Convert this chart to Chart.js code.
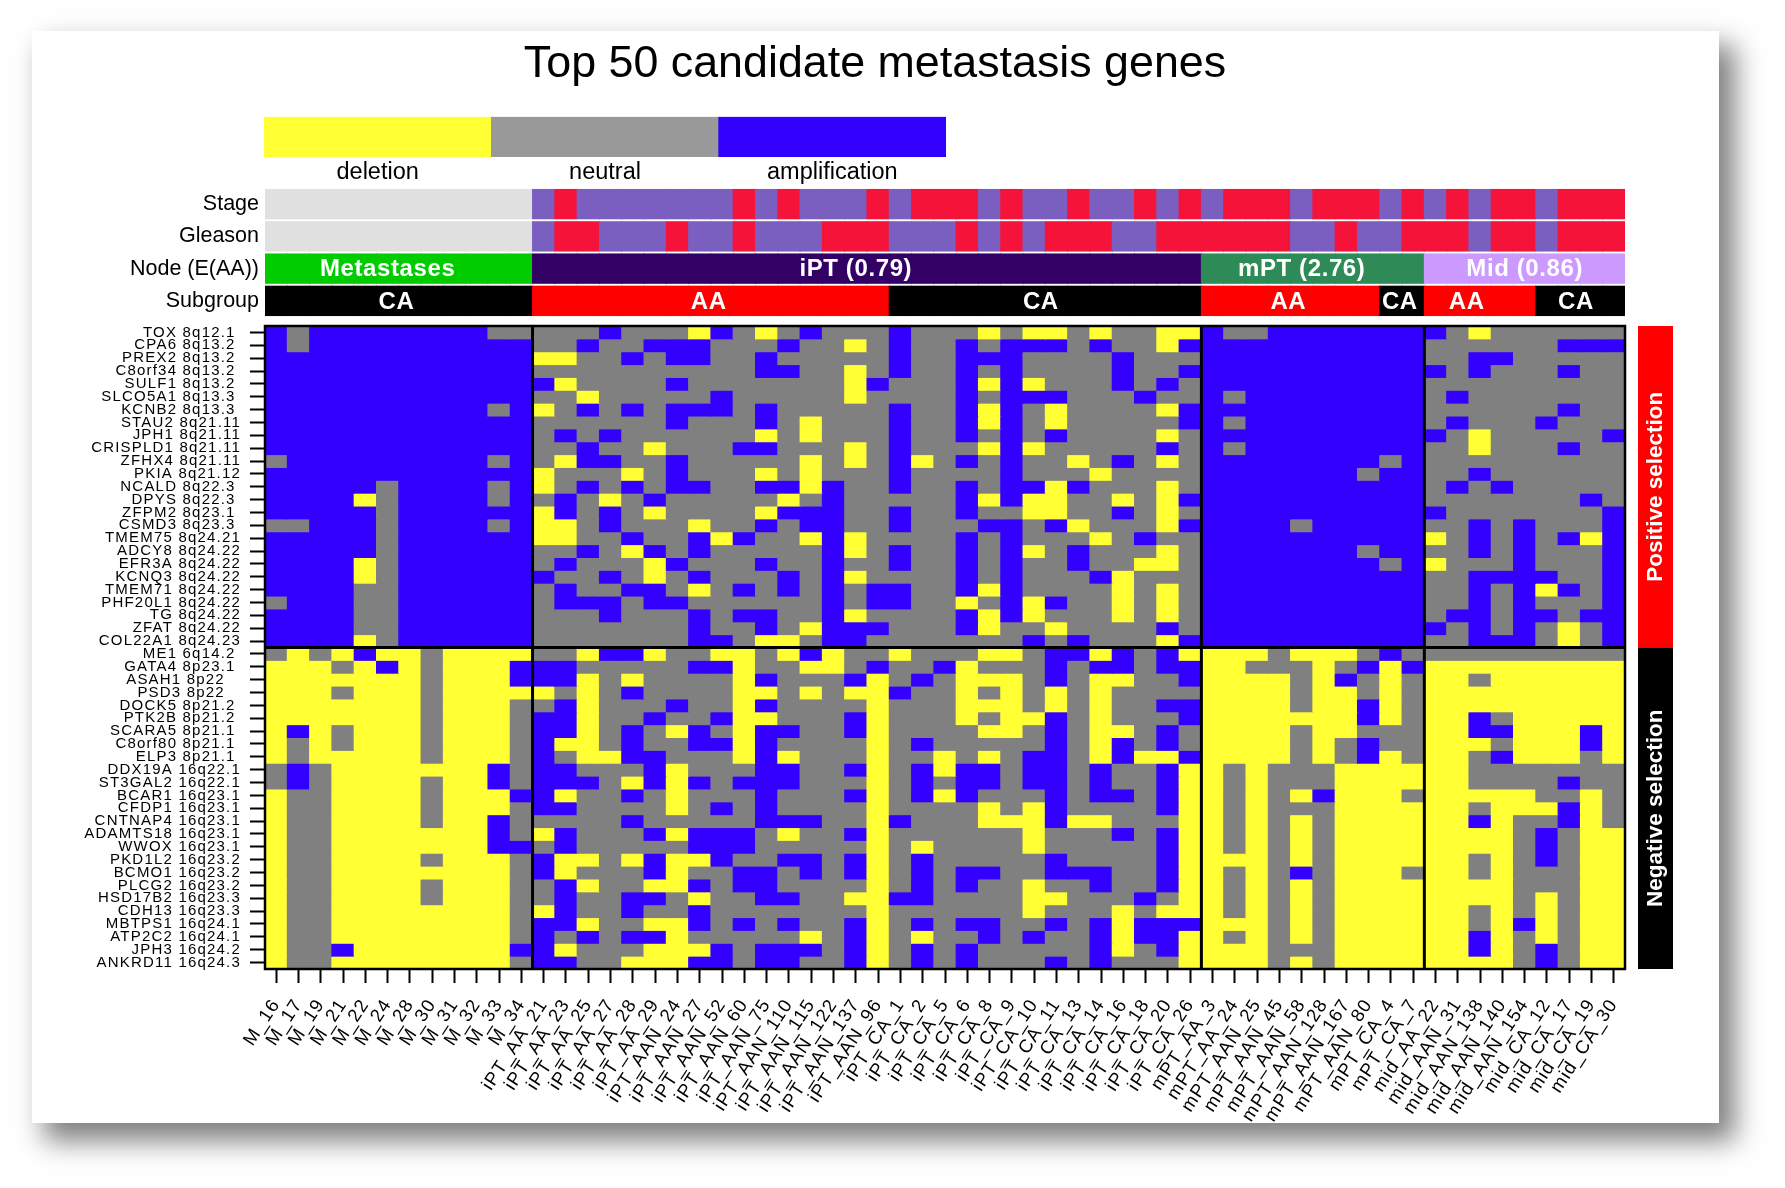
<!DOCTYPE html>
<html>
<head>
<meta charset="utf-8">
<title>Top 50 candidate metastasis genes</title>
<script src="https://cdn.jsdelivr.net/npm/chart.js@4"></script>
<style>
  body { margin: 0; background: #fff; width: 1785px; height: 1188px; overflow: hidden; position: relative; }
  #panel { position: absolute; left: 32px; top: 31px; width: 1687px; height: 1092px; background: #fff; box-shadow: 14px 16px 26px 2px rgba(0,0,0,.5); }
  canvas { position: absolute; }
</style>
</head>
<body>
<div id="panel"></div>
<canvas id="heatChart" width="1750" height="1188" style="left:0;top:0"></canvas>
<canvas id="stripChart" width="1750" height="135" style="left:0;top:186px"></canvas>
<canvas id="legendChart" width="1750" height="190" style="left:0;top:0"></canvas>
<canvas id="selectionChart" width="35" height="643" style="left:1638px;top:326px"></canvas>
<script>
const FONT = '"Liberation Sans", Arial, sans-serif';

const sampleNames = [
  "M_16","M_17","M_19","M_21","M_22","M_24","M_28","M_30","M_31","M_32","M_33","M_34",
  "iPT_AA_21","iPT_AA_23","iPT_AA_25","iPT_AA_27","iPT_AA_28","iPT_AA_29",
  "iPT_AAN_24","iPT_AAN_27","iPT_AAN_52","iPT_AAN_60","iPT_AAN_75","iPT_AAN_110","iPT_AAN_115","iPT_AAN_122","iPT_AAN_137","iPT_AAN_96",
  "iPT_CA_1","iPT_CA_2","iPT_CA_5","iPT_CA_6","iPT_CA_8","iPT_CA_9","iPT_CA_10","iPT_CA_11","iPT_CA_13","iPT_CA_14","iPT_CA_16","iPT_CA_18","iPT_CA_20","iPT_CA_26",
  "mPT_AA_3","mPT_AA_24","mPT_AAN_25","mPT_AAN_45","mPT_AAN_58","mPT_AAN_128","mPT_AAN_167","mPT_AAN_80","mPT_CA_4","mPT_CA_7",
  "mid_AA_22","mid_AAN_31","mid_AAN_138","mid_AAN_140","mid_AAN_154","mid_CA_12","mid_CA_17","mid_CA_19","mid_CA_30"
];

const geneNames = [
  "TOX","CPA6","PREX2","C8orf34","SULF1","SLCO5A1","KCNB2","STAU2","JPH1","CRISPLD1","ZFHX4","PKIA","NCALD","DPYS","ZFPM2","CSMD3","TMEM75","ADCY8","EFR3A","KCNQ3","TMEM71","PHF20L1","TG","ZFAT","COL22A1",
  "ME1","GATA4","ASAH1","PSD3","DOCK5","PTK2B","SCARA5","C8orf80","ELP3","DDX19A","ST3GAL2","BCAR1","CFDP1","CNTNAP4","ADAMTS18","WWOX","PKD1L2","BCMO1","PLCG2","HSD17B2","CDH13","MBTPS1","ATP2C2","JPH3","ANKRD11"
];

const geneBands = [
  "8q12.1","8q13.2","8q13.2","8q13.2","8q13.2","8q13.3","8q13.3","8q21.11","8q21.11","8q21.11","8q21.11","8q21.12","8q22.3","8q22.3","8q23.1","8q23.3","8q24.21","8q24.22","8q24.22","8q24.22","8q24.22","8q24.22","8q24.22","8q24.22","8q24.23",
  "6q14.2","8p23.1","8p22","8p22","8p21.2","8p21.2","8p21.1","8p21.1","8p21.1","16q22.1","16q22.1","16q23.1","16q23.1","16q23.1","16q23.1","16q23.1","16q23.2","16q23.2","16q23.2","16q23.3","16q23.3","16q24.1","16q24.1","16q24.2","16q24.3"
];

// one string per gene, one letter per sample: A amplification, . neutral, D deletion
// blocks are M | iPT AA | iPT CA | mPT | mid
const copyNumberRows = [
  "A.AAAAAAAA.. ...A...DA.D.A... A...D.DD.D..DD A..AAAAAAA A.D......",
  "A.AAAAAAAAAA ..A..AAA...A..D. A..A.AAA.A..DA AAAAAAAAAA ......AAA",
  "AAAAAAAAAAAA DD..A.AA..A..... A..AAA....A... AAAAAAAAAA ..AA.....",
  "AAAAAAAAAAAA ..........AA..D. A..A.A....A..A AAAAAAAAAA A.A...A..",
  "AAAAAAAAAAAA AD....A.......DA ...ADAD...A.A. AAAAAAAAAA .........",
  "AAAAAAAAAAAA ..D.....A.....D. ...A.AAA...A.. A.AAAAAAAA .A.......",
  "AAAAAAAAAA.A D.A.A.AAA.A..... A..ADA.D....DA AAAAAAAAAA ......A..",
  "AAAAAAAAAAAA ......A...A.D... A..ADA.D.....A A.AAAAAAAA .A...A...",
  "AAAAAAAAAAAA .A.A......D.D... A..A.A.A....D. AAAAAAAAAA A.D.....A",
  "AAAAAAAAAAAA ..A..D...AA...D. A...DAD.....A. A.AAAAAAAA ..D...A..",
  ".AAAAAAAAA.A .DAA..A.....D.D. AD.A.A..D.A.D. AAAAAAAA.A .........",
  "AAAAAAAAAAAA D...D.A...D.D... A....A...D.... AAAAAAA.AA ..A......",
  "AAAAA.AAAA.A D.A.A.AA..AADA.. A..A.AADA...D. AAAAAAAAAA .A.A.....",
  "AAAAD.AAAA.A .A.D.A.....D.A.. ...ADADD..D.DA AAAAAAAAAA .......A.",
  "AAAAA.AAAAAA DA.A.D....DAAA.. A..A..DD..A.D. AAAAAAAAAA A.......A",
  "..AAA.AAAA.A DD.A...D..A.AA.. A...AA.AD...DA AAAA.AAAAA ..A.A...A",
  "AAAAA.AAAAAA DD..A..ADA..DAD. ...A.A...D.A.. AAAAAAAAAA D.A.A.ADA",
  "AAAAA.AAAAAA ..A.DA.A.....AD. A..A.AD.A...D. AAAAAAA.AA ..A.A...A",
  "AAAAD.AAAAAA .A...DA...A..A.. A..A.A..A..DD. AAAAAAAA.A D...A...A",
  "AAAAD.AAAAAA A..A.D.A...A.AD. ...A.A...AD... AAAAAAAAAA ..AAAA..A",
  "AAAA..AAAAAA .A..AA.D.A.A.A.A A..ADA....D.D. AAAAAAAAAA ..A.ADA.A",
  ".AAA..AAAAAA .AAA.AA......A.A A..D.ADA..D.D. AAAAAAAAAA ..A.A...A",
  "AAAA..AAAAAA ...A...A.AA..AD. ...ADAD...D.D. AAAAAAAAAA .AA.AA.AA",
  "AAAA..AAAAAA .......A..A.DAAA ...AD..D....A. AAAAAAAAAA A.A.A.D.A",
  "AAAAD.AAAAAA .......AA.DD.AA. ......A.A...DA AAAAAAAAAA ..AAA.D.A",
  ".D.DADD.DDDD ..DAAD..DD.DAD.. D...DD.AADA.AD DDD.DDD.A. .........",
  "DDD.DAD.DDDA AA.....AAD..DD.A ..AD...A.AA.AA DD...D.ADA DDDDDDDDD",
  "DDDDDDD.DDDA AAD.D....DA...AD .A.DDD.A.DD..A DDDD.DA.D. DD.DDDDDD",
  "DDD.DDD.DDDD D.D.A....DD.D.DD A..D.D.D.D.... DDDD.DD.D. DDDDDDDDD",
  "DDDDDDD.DDD. .AD...A..DA....D ...DDD.D.D..AA DDDD.DDAD. DDDDDDDDD",
  "DDDDDDD.DDD. AAD..A..ADD...AD ...D.DDA.D...A DDDDDDDAD. DDA.DDDDD",
  "DAD.DDD.DDD. AAD.A.DA.DAA..AD ....DD.A.DD.A. DDDD.DD... DDAADDDAD",
  "D.D.DDD.DDD. ADD.A..AADA....D .A.....A.DA.A. DDDD.D.A.. DDD.DDDAD",
  "D.DDDDD.DDD. A.DDAA...DAD...D ..D.D.AA.DADDA DDDD.D.AD. DD.ADDD.D",
  ".A.DDDDDDDA. AA...AD...AA..AD .ADAA.AA.A..AD D.D...DDDD DD.......",
  ".A.DDDD.DDA. AAA.DADA.AAA...D .A.AA.AA.A..AD D.D...DDDD DD....A..",
  "D..DDDD.DDDA AD..A.D...A...AD .ADA...A.AA.AD D.D.DADDD. DDDDD..D.",
  "D..DDDD.DDD. AA....D.A.A....D ....D.DA....AD D.D...DDDD DD.DDDAD.",
  "D..DDDD.DDA. ....A.....AAA..D A...DDDADD...D D.D.D.DDDD DDAD..AD.",
  "D..DDDDDDDA. DA...ADAAA.D..AD ......D...A.AD D.D.D.DDDD DDDD.A.DD",
  "D..DDDDDDDAA .A.....AAA.....D .D....D.....AD D.D.D.DDDD DDDD.A.DD",
  "D..DDDD.DDD. ADD.DADDA..AA.AD .A.....A....AD DDD.D.DDDD DD.D.A.DD",
  "D..DDDDDDDD. AD...AD..AA.A.AD .A.AA..AAA..AD D.D.A.DDD. DD.D...DD",
  "D..DDDD.DDD. .AD..DDA.AA....D .A.A..D..A..AD D.D.D.DDDD DDDD...DD",
  "D..DDDD.DDD. .A..AA.D..AA..DD AA....DD...A.D D.D.D.DDDD DDDD.D.DD",
  "D..DDDDDDDD. DA..A..A.......D ......D...D.DD D.D.D.DDDD DD.D.D.DD",
  "D..DDDDDDDD. AAD..DDA.A.A..AD .A.AA..A.ADAAA DDD.D.DDDD DD.DAD.DD",
  "D..DDDDDDDD. A.A.AAD.....D.AD .D..A.A..ADAAD D.D.D.DDDD DDAD.D.DD",
  "D..ADDDDDDDA AD...DDDA.AAA.AD .A.A.....AD.AD DDD...DDDD DDAD.A.DD",
  "D..DDDDDDDD. AA..DDDAA.AA..AD .A.A...A.A...D DDD.D.DDDD DDDD.A.DD"
];

// - not applicable, L lower grade, H higher grade
const stageCodes   = "------------ LHLLLLLLLHLHLLLH LHHHLHLLHLLHLH LHHHLHHHLH LHLHHLHHH";
const gleasonCodes = "------------ LHHLLLHLLHLLLHHH LLLHLHLHHHLLHH HHHHLLHLLH HHLHHLHHH";

const stripRowNames = ["Stage", "Gleason", "Node (E(AA))", "Subgroup"];
const nodeTexts = ["Metastases", "iPT (0.79)", "mPT (2.76)", "Mid (0.86)"];
const nodeTextColumns = [5, 26, 46, 56];
const subgroupTexts = ["CA", "AA", "CA", "AA", "CA", "AA", "CA"];
const subgroupTextColumns = [5.4, 19.4, 34.3, 45.4, 50.4, 53.4, 58.3];

const legendNames = ["deletion", "neutral", "amplification"];
const selectionNames = ["Positive selection", "Negative selection"];
const selectionGeneCounts = [25, 25];

const CELL_COLORS = { A: "#3300ff", ".": "#808080", D: "#ffff33" };
const GRADE_COLORS = { "-": "#e0e0e0", L: "#7b5fc0", H: "#f5133a" };
const NODE_COLORS = { M: "#00cc00", i: "#330066", m: "#2e8b57", mid: "#cc99ff" };

function noSpaces(str) {
  return str.replace(/ /g, "");
}

function nodeColor(name) {
  if (name.startsWith("mid")) return NODE_COLORS.mid;
  return NODE_COLORS[name[0]];
}

function subgroupColor(name) {
  return name.includes("_AA") ? "#ff0000" : "#000000";
}

// Heatmap: one stacked dataset per gene, every cell is one unit tall
const heatDatasets = copyNumberRows.map((row, i) => ({
  label: geneNames[i],
  data: sampleNames.map(() => 1),
  backgroundColor: noSpaces(row).split("").map(c => CELL_COLORS[c]),
  barPercentage: 1,
  categoryPercentage: 1,
  inflateAmount: 0.5
}));

const framePlugin = {
  id: "frame",
  beforeDraw(chart) {
    // the source figure is stretched, wider letters get closer to it
    chart.ctx.letterSpacing = "1.2px";
  },
  afterDatasetsDraw(chart) {
    const { ctx, chartArea: area, scales } = chart;
    ctx.save();
    ctx.strokeStyle = "#000";
    ctx.lineWidth = 3;
    [11.5, 41.5, 51.5].forEach(col => {
      const x = scales.x.getPixelForValue(col);
      ctx.beginPath();
      ctx.moveTo(x, area.top);
      ctx.lineTo(x, area.bottom);
      ctx.stroke();
    });
    const midY = scales.y.getPixelForValue(25);
    ctx.beginPath();
    ctx.moveTo(area.left, midY);
    ctx.lineTo(area.right, midY);
    ctx.stroke();
    ctx.lineWidth = 2.5;
    ctx.strokeRect(area.left, area.top, area.right - area.left, area.bottom - area.top);
    ctx.restore();
  }
};

new Chart(document.getElementById("heatChart"), {
  type: "bar",
  data: { labels: sampleNames, datasets: heatDatasets },
  options: {
    responsive: false,
    animation: false,
    layout: { padding: { top: 326, right: 125 } },
    plugins: { legend: { display: false }, tooltip: { enabled: false } },
    scales: {
      x: {
        stacked: true,
        border: { display: false },
        grid: { drawOnChartArea: false, offset: false, tickLength: 14, tickColor: "#000", tickWidth: 2 },
        ticks: { autoSkip: false, minRotation: 57, maxRotation: 57, padding: 12, color: "#000", font: { family: FONT, size: 18.5 } },
        afterFit(scale) { scale.height = 219; scale.paddingLeft = 0; scale.paddingRight = 0; }
      },
      y: { display: false, stacked: true, min: 0, max: 50, reverse: true },
      genes: {
        type: "category",
        axis: "y",
        position: "left",
        labels: geneNames.map((g, i) => g + " " + geneBands[i] + " ".repeat(7 - geneBands[i].length)),
        offset: true,
        border: { display: false },
        grid: { drawOnChartArea: false, offset: false, tickLength: 15, tickColor: "#000", tickWidth: 2 },
        ticks: { autoSkip: false, padding: 9, color: "#000", font: { family: FONT, size: 15 } },
        afterFit(scale) { scale.width = 265; scale.paddingTop = 0; scale.paddingBottom = 0; }
      }
    }
  },
  plugins: [framePlugin]
});

// Annotation strips above the heatmap
const stripColors = [
  noSpaces(stageCodes).split("").map(c => GRADE_COLORS[c]),
  noSpaces(gleasonCodes).split("").map(c => GRADE_COLORS[c]),
  sampleNames.map(nodeColor),
  sampleNames.map(subgroupColor)
];

const stripTextPlugin = {
  id: "stripText",
  afterDatasetsDraw(chart) {
    const { ctx, scales } = chart;
    ctx.save();
    ctx.fillStyle = "#fff";
    ctx.font = "bold 24px " + FONT;
    ctx.letterSpacing = "0.6px";
    ctx.textAlign = "center";
    ctx.textBaseline = "middle";
    nodeTexts.forEach((t, i) => {
      ctx.fillText(t, scales.x.getPixelForValue(nodeTextColumns[i]), scales.y.getPixelForValue(2.5) + 1);
    });
    subgroupTexts.forEach((t, i) => {
      ctx.fillText(t, scales.x.getPixelForValue(subgroupTextColumns[i]), scales.y.getPixelForValue(3.5) + 1);
    });
    ctx.restore();
  }
};

new Chart(document.getElementById("stripChart"), {
  type: "bar",
  data: {
    labels: sampleNames,
    datasets: stripRowNames.map((name, i) => ({
      label: name,
      data: sampleNames.map(() => [i + 0.045, i + 0.955]),
      backgroundColor: stripColors[i],
      grouped: false,
      barPercentage: 1,
      categoryPercentage: 1,
      inflateAmount: 0.5
    }))
  },
  options: {
    responsive: false,
    animation: false,
    layout: { padding: { top: 2, right: 125, bottom: 4 } },
    plugins: { legend: { display: false }, tooltip: { enabled: false } },
    scales: {
      x: { display: false },
      y: { display: false, min: 0, max: 4, reverse: true },
      rows: {
        type: "category",
        axis: "y",
        position: "left",
        labels: stripRowNames,
        offset: true,
        border: { display: false },
        grid: { display: false, drawTicks: false },
        ticks: { padding: 6, color: "#000", font: { family: FONT, size: 21.5 } },
        afterFit(scale) { scale.width = 265; scale.paddingTop = 0; scale.paddingBottom = 0; }
      }
    }
  },
  plugins: [stripTextPlugin]
});

// Colour key and figure title, the two empty side axes keep the title centred on the canvas
const emptySideAxis = (position, width) => ({
  type: "linear",
  axis: "y",
  position,
  border: { display: false },
  grid: { display: false, drawTicks: false },
  ticks: { display: false },
  afterFit(scale) { scale.width = width; }
});

new Chart(document.getElementById("legendChart"), {
  type: "bar",
  data: {
    labels: legendNames,
    datasets: [{
      data: legendNames.map(() => 1),
      backgroundColor: ["#ffff33", "#999999", "#3300ff"],
      barPercentage: 1,
      categoryPercentage: 1
    }]
  },
  options: {
    responsive: false,
    animation: false,
    plugins: {
      legend: { display: false },
      tooltip: { enabled: false },
      title: {
        display: true,
        text: "Top 50 candidate metastasis genes",
        color: "#000",
        font: { family: FONT, size: 44.8, weight: "normal" },
        padding: { top: 38, bottom: 25 }
      }
    },
    scales: {
      x: {
        border: { display: false },
        grid: { display: false, drawTicks: false },
        ticks: { padding: 1, maxRotation: 0, color: "#000", font: { family: FONT, size: 23.5 } },
        afterFit(scale) { scale.height = 33; }
      },
      y: { display: false, min: 0, max: 1 },
      sideLeft: emptySideAxis("left", 264),
      sideRight: emptySideAxis("right", 804)
    }
  }
});

// Selection bar on the right
const selectionTextPlugin = {
  id: "selectionText",
  afterDatasetsDraw(chart) {
    const { ctx, chartArea: area, scales } = chart;
    const midX = (area.left + area.right) / 2;
    ctx.save();
    ctx.fillStyle = "#fff";
    ctx.font = "bold 22.5px " + FONT;
    ctx.textAlign = "center";
    ctx.textBaseline = "middle";
    selectionNames.forEach((name, i) => {
      const from = i === 0 ? 0 : selectionGeneCounts[0];
      ctx.save();
      ctx.translate(midX, scales.y.getPixelForValue(from + selectionGeneCounts[i] / 2));
      ctx.rotate(-Math.PI / 2);
      ctx.fillText(name, 0, 0);
      ctx.restore();
    });
    ctx.restore();
  }
};

new Chart(document.getElementById("selectionChart"), {
  type: "bar",
  data: {
    labels: ["selection"],
    datasets: selectionNames.map((name, i) => ({
      label: name,
      data: [selectionGeneCounts[i]],
      backgroundColor: i === 0 ? "#ff0000" : "#000000",
      barPercentage: 1,
      categoryPercentage: 1
    }))
  },
  options: {
    responsive: false,
    animation: false,
    plugins: { legend: { display: false }, tooltip: { enabled: false } },
    scales: {
      x: { display: false, stacked: true },
      y: { display: false, stacked: true, min: 0, max: 50, reverse: true }
    }
  },
  plugins: [selectionTextPlugin]
});
</script>
</body>
</html>
